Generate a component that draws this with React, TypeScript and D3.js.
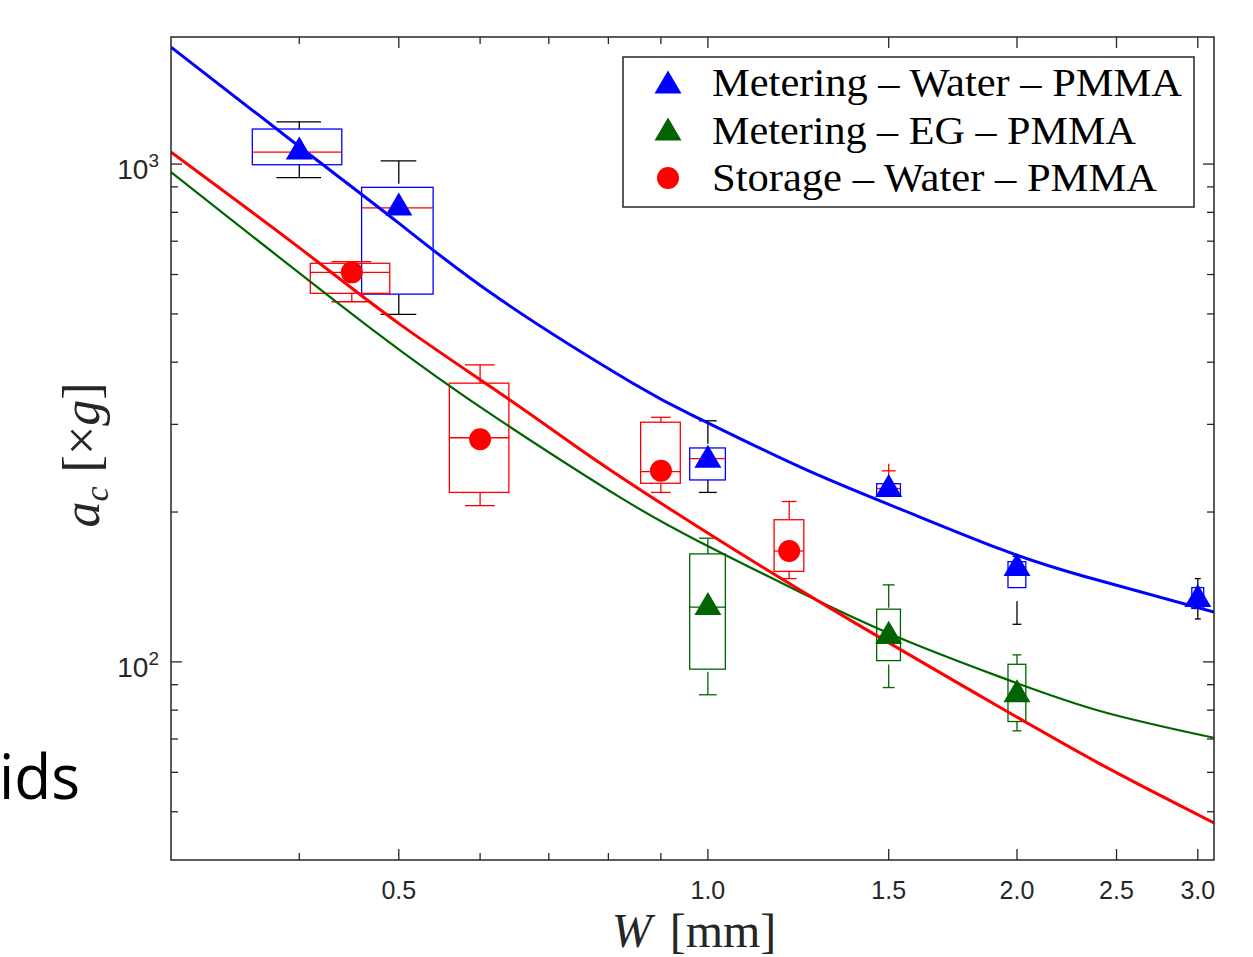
import React from 'react';
import * as d3 from 'd3';

// ---- Data ----
// Metering – Water – PMMA (blue)
const W_MW = [0.4, 0.5, 1.0, 1.5, 2.0, 3.0];
const MW_MARK = [1077, 831, 259, 226, 157, 136];
const MW_Q1 = [997, 548, 232, 216, 141, 128];
const MW_Q3 = [1176, 898, 269, 228, 159, 141];
const MW_MED = [1057, 817, 256, 223, 154, 134];
const MW_WLO = [939, 499, 219, 215, 119, 122];
const MW_WHI = [1216, 1015, 305, 228, 163, 147];
const MW_OUT_W = [1.5];
const MW_OUT = [242];

// Metering – EG – PMMA (green)
const W_MEG = [1.0, 1.5, 2.0];
const MEG_MARK = [131, 114.7, 87.5];
const MEG_Q1 = [96.7, 100.6, 75.9];
const MEG_Q3 = [164.8, 127.6, 98.9];
const MEG_MED = [128.8, 109, 84];
const MEG_WLO = [85.9, 88.8, 72.7];
const MEG_WHI = [177.2, 142.8, 103.3];

// Storage – Water – PMMA (red)
const W_SW = [0.45, 0.6, 0.9, 1.2];
const SW_MARK = [606, 280, 242, 167];
const SW_Q1 = [550, 219, 228.5, 152];
const SW_Q3 = [632, 363, 303, 193];
const SW_MED = [606, 282, 241, 167];
const SW_WLO = [529, 206, 219, 147];
const SW_WHI = [637, 395, 310, 210];

// Fit curves
const BLUE_FIT_W = [0.3, 0.4005, 0.5, 0.627, 0.845, 0.982, 1.229, 1.538, 1.925, 2.319, 3.111];
const BLUE_FIT_A = [1718, 1082, 761, 535.6, 363, 307.6, 246.4, 202.9, 168.6, 148.8, 126];
const RED_FIT_W = [0.3, 0.4005, 0.501, 0.6415, 0.785, 0.982, 1.324, 1.87, 2.409, 3.111];
const RED_FIT_A = [1057, 678, 477, 335.9, 250.9, 185.8, 127.2, 83.9, 62.4, 47.5];
const GREEN_FIT_W = [0.3, 0.4719, 0.627, 0.826, 0.982, 1.229, 1.538, 1.925, 2.409, 3.111];
const GREEN_FIT_A = [963.7, 464, 306, 212.5, 174.2, 138.2, 111.7, 93.3, 79.7, 70.4];

// Axes
const X_DOMAIN = [0.3, 3.111];
const Y_DOMAIN = [40, 1800];
const X_MAJOR = [0.5, 1.0, 1.5, 2.0, 2.5, 3.0];
const X_MAJOR_LABELS = ['0.5', '1.0', '1.5', '2.0', '2.5', '3.0'];
const X_MINOR = [0.4, 0.6, 0.7, 0.8, 0.9];
const Y_MAJOR = [100, 1000];
const Y_MAJOR_EXP = ['2', '3'];
const Y_MINOR = [50, 60, 70, 80, 90, 200, 300, 400, 500, 600, 700, 800, 900];

const LEGEND_LABELS = ['Metering – Water – PMMA', 'Metering – EG – PMMA', 'Storage – Water – PMMA'];
const LEGEND_WIDTHS = [470, 424, 445];

const BLUE = '#0000ff';
const GREEN = '#006400';
const RED = '#ff0000';
const AX = '#262626';

const L = 171, R = 1214, T = 37, B = 860;

const x = d3.scaleLog().domain(X_DOMAIN).range([L, R]);
const y = d3.scaleLog().domain(Y_DOMAIN).range([B, T]);

const tri = 'M0,-11.5L13.5,11.5L-13.5,11.5Z';

type BoxProps = {
  ws: number[]; q1: number[]; q3: number[]; med: number[]; wlo: number[]; whi: number[];
  boxColor: string; medColor: string; whiskColor: string;
};

function Boxes({ ws, q1, q3, med, wlo, whi, boxColor, medColor, whiskColor }: BoxProps) {
  return (
    <g>
      {ws.map((w, i) => {
        const x0 = x(w - 0.04), x1 = x(w + 0.04);
        const c0 = x(w - 0.02), c1 = x(w + 0.02);
        const xc = x(w);
        const yt = y(q3[i]), yb = y(q1[i]);
        const yhi = y(whi[i]), ylo = y(wlo[i]);
        return (
          <g key={i}>
            {yhi < yt - 0.5 && (
              <line x1={xc} x2={xc} y1={yhi} y2={yt} stroke={whiskColor} strokeWidth={1.3} strokeDasharray="23 14" />
            )}
            {ylo > yb + 0.5 && (
              <line x1={xc} x2={xc} y1={ylo} y2={yb} stroke={whiskColor} strokeWidth={1.3} strokeDasharray="23 14" />
            )}
            <line x1={c0} x2={c1} y1={yhi} y2={yhi} stroke={whiskColor} strokeWidth={1.3} />
            <line x1={c0} x2={c1} y1={ylo} y2={ylo} stroke={whiskColor} strokeWidth={1.3} />
            <rect x={x0} y={yt} width={x1 - x0} height={yb - yt} fill="none" stroke={boxColor} strokeWidth={1.3} />
            <line x1={x0} x2={x1} y1={y(med[i])} y2={y(med[i])} stroke={medColor} strokeWidth={1.3} />
          </g>
        );
      })}
    </g>
  );
}

function fitPath(ws: number[], as: number[]) {
  const pts = ws.map((w, i) => [x(w), y(as[i])] as [number, number]);
  return d3.line().curve(d3.curveNatural)(pts) || '';
}

export default function App() {
  return (
    <div style={{ position: 'absolute', left: 0, top: 0 }}>
      <svg width={1253} height={957} style={{ display: 'block', background: '#fff' }}>
        <defs>
          <clipPath id="plotclip">
            <rect x={L} y={T} width={R - L} height={B - T} />
          </clipPath>
        </defs>
        <rect x={0} y={0} width={1253} height={957} fill="#fff" />

        {/* background slide text fragment */}
        <text x={-1} y={799} fontFamily="'Open Sans', 'Noto Sans', sans-serif" fontSize={62} fill="#000"
          textLength={81} lengthAdjust="spacingAndGlyphs">ids</text>

        {/* boxes */}
        <g clipPath="url(#plotclip)">
          <Boxes ws={W_MW} q1={MW_Q1} q3={MW_Q3} med={MW_MED} wlo={MW_WLO} whi={MW_WHI}
            boxColor={BLUE} medColor={RED} whiskColor="#000" />
          <Boxes ws={W_MEG} q1={MEG_Q1} q3={MEG_Q3} med={MEG_MED} wlo={MEG_WLO} whi={MEG_WHI}
            boxColor={GREEN} medColor={GREEN} whiskColor={GREEN} />
          <Boxes ws={W_SW} q1={SW_Q1} q3={SW_Q3} med={SW_MED} wlo={SW_WLO} whi={SW_WHI}
            boxColor={RED} medColor={RED} whiskColor={RED} />
          {MW_OUT_W.map((w, i) => (
            <g key={i} transform={`translate(${x(w)},${y(MW_OUT[i])})`} stroke={RED} strokeWidth={1.3}>
              <line x1={-7} x2={7} y1={0} y2={0} />
              <line x1={0} x2={0} y1={-7} y2={7} />
            </g>
          ))}
        </g>

        {/* fit curves */}
        <g clipPath="url(#plotclip)" fill="none">
          <path d={fitPath(GREEN_FIT_W, GREEN_FIT_A)} stroke={GREEN} strokeWidth={2.2} />
          <path d={fitPath(RED_FIT_W, RED_FIT_A)} stroke={RED} strokeWidth={3} />
          <path d={fitPath(BLUE_FIT_W, BLUE_FIT_A)} stroke={BLUE} strokeWidth={3} />
        </g>

        {/* markers */}
        <g>
          {W_MW.map((w, i) => (
            <path key={'b' + i} d={tri} transform={`translate(${x(w)},${y(MW_MARK[i])})`} fill={BLUE} />
          ))}
          {W_MEG.map((w, i) => (
            <path key={'g' + i} d={tri} transform={`translate(${x(w)},${y(MEG_MARK[i])})`} fill={GREEN} />
          ))}
          {W_SW.map((w, i) => (
            <circle key={'r' + i} cx={x(w)} cy={y(SW_MARK[i])} r={11} fill={RED} />
          ))}
        </g>

        {/* axes frame */}
        <rect x={L} y={T} width={R - L} height={B - T} fill="none" stroke={AX} strokeWidth={1.5} />

        {/* ticks */}
        <g stroke={AX} strokeWidth={1.3}>
          {X_MAJOR.map((v, i) => (
            <g key={'xm' + i}>
              <line x1={x(v)} x2={x(v)} y1={B} y2={B - 11} />
              <line x1={x(v)} x2={x(v)} y1={T} y2={T + 11} />
            </g>
          ))}
          {X_MINOR.map((v, i) => (
            <g key={'xn' + i}>
              <line x1={x(v)} x2={x(v)} y1={B} y2={B - 7} />
              <line x1={x(v)} x2={x(v)} y1={T} y2={T + 7} />
            </g>
          ))}
          {Y_MAJOR.map((v, i) => (
            <g key={'ym' + i}>
              <line x1={L} x2={L + 11} y1={y(v)} y2={y(v)} />
              <line x1={R} x2={R - 11} y1={y(v)} y2={y(v)} />
            </g>
          ))}
          {Y_MINOR.map((v, i) => (
            <g key={'yn' + i}>
              <line x1={L} x2={L + 7} y1={y(v)} y2={y(v)} />
              <line x1={R} x2={R - 7} y1={y(v)} y2={y(v)} />
            </g>
          ))}
        </g>

        {/* x tick labels */}
        <g fontFamily="'Liberation Sans', Arial, sans-serif" fontSize={25} fill={AX} textAnchor="middle">
          {X_MAJOR.map((v, i) => (
            <text key={i} x={x(v)} y={899}>{X_MAJOR_LABELS[i]}</text>
          ))}
        </g>

        {/* y tick labels */}
        <g fontFamily="'Liberation Sans', Arial, sans-serif" fill={AX}>
          {Y_MAJOR.map((v, i) => (
            <text key={i} x={159} y={y(v) + 15} textAnchor="end" fontSize={28}>
              10<tspan fontSize={19} dy={-12}>{Y_MAJOR_EXP[i]}</tspan>
            </text>
          ))}
        </g>

        {/* x label */}
        <text x={694} y={947} textAnchor="middle" fontFamily="'Liberation Serif', 'Times New Roman', serif" fontSize={48} fill={AX}>
          <tspan fontStyle="italic">W</tspan>
          <tspan dx={18}>[mm]</tspan>
        </text>

        {/* y label */}
        <text transform="translate(99,455) rotate(-90)" textAnchor="middle"
          fontFamily="'Liberation Serif', 'Times New Roman', serif" fontSize={52} fill={AX}>
          <tspan fontStyle="italic">a</tspan>
          <tspan fontStyle="italic" fontSize={34} dy={9}>c</tspan>
          <tspan dy={-9} dx={14}>[×</tspan>
          <tspan fontStyle="italic">g</tspan>
          <tspan>]</tspan>
        </text>

        {/* legend */}
        <g>
          <rect x={623} y={57} width={571} height={150} fill="#fff" stroke={AX} strokeWidth={1.5} />
          <path d={tri} transform="translate(668,82)" fill={BLUE} />
          <path d={tri} transform="translate(668,129)" fill={GREEN} />
          <circle cx={668} cy={178} r={11} fill={RED} />
          <g fontFamily="'Liberation Serif', 'Times New Roman', serif" fontSize={41} fill="#000">
            {LEGEND_LABELS.map((t, i) => (
              <text key={i} x={712} y={96 + i * 47.5} textLength={LEGEND_WIDTHS[i]} lengthAdjust="spacingAndGlyphs">{t}</text>
            ))}
          </g>
        </g>
      </svg>
    </div>
  );
}
